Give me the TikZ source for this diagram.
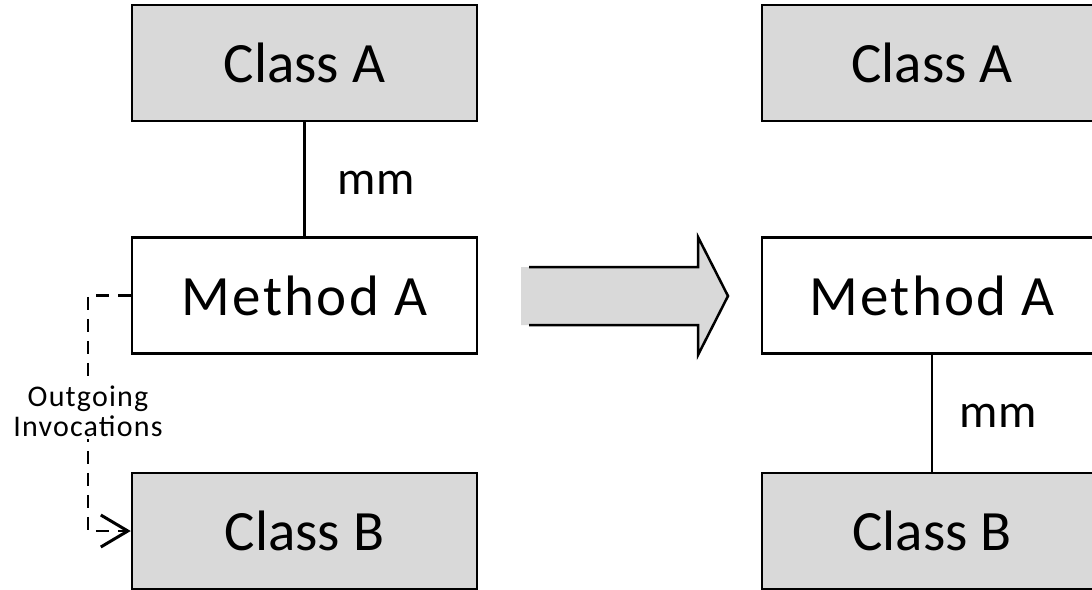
\documentclass[tikz,border=0pt]{standalone}
\usepackage{fontspec}
\setmainfont{Carlito}
\newfontfamily\spacedfont[LetterSpace=4]{Carlito}
\usetikzlibrary{arrows.meta}
\definecolor{boxgray}{HTML}{D9D9D9}
\tikzset{
  classbox/.style={draw=black, line width=2.5pt, fill=boxgray, minimum width=345pt, minimum height=116pt, inner sep=0pt, font=\fontsize{57}{60}\selectfont},
  methodbox/.style={draw=black, line width=2.5pt, fill=white, minimum width=345pt, minimum height=116pt, inner sep=0pt, font=\spacedfont\fontsize{57}{60}\selectfont},
  link/.style={draw=black, line width=2.5pt},
  lbl/.style={font=\fontsize{48}{50}\selectfont, inner sep=0pt},
  invoc/.style={link, dash pattern=on 13pt off 9pt, -{Straight Barb[length=27pt,width=32pt,line width=3pt]}},
  smalllbl/.style={font=\spacedfont\fontsize{30}{30}\selectfont, align=center, fill=white, inner sep=3pt},
  bigarrow/.style={fill=boxgray, draw=none},
  bigarrowline/.style={draw=black, line width=2.5pt, line join=miter}
}
\begin{document}
\begin{tikzpicture}[x=1pt,y=-1pt]
\useasboundingbox (0,0) rectangle (1092,589);
\begin{scope}
\clip (0,0) rectangle (1092,589);
% left side
\node[classbox] (lca) at (304.5,63) {Class A};
\node[methodbox] (lma) at (304.5,295.5) {Method A};
\node[classbox] (lcb) at (304.5,531) {Class B};
\draw[link] (lca.south) -- (lma.north);
\node[lbl] (lmm) at (376,183) {mm};
\coordinate (c1) at (88,295.5);
\coordinate (c2) at (88,531);
\draw[invoc] (lma.west) -- (c1) -- (c2) -- (lcb.west);
\node[smalllbl] (lout) at (88,411) {Outgoing\\Invocations};
% big arrow
\fill[bigarrow] (521,267) -- (698,267) -- (698,237) -- (728,296) -- (698,355) -- (698,325) -- (521,325) -- cycle;
\draw[bigarrowline] (529,267) -- (698,267) -- (698,237) -- (728,296) -- (698,355) -- (698,325) -- (529,325);
% right side
\node[classbox, minimum width=340pt] (rca) at (932,63) {Class A};
\node[methodbox, minimum width=340pt] (rma) at (932,295.5) {Method A};
\node[classbox, minimum width=340pt] (rcb) at (932,531) {Class B};
\draw[link] (rma.south) -- (rcb.north);
\node[lbl] (rmm) at (998,416) {mm};
\end{scope}
\end{tikzpicture}
\end{document}
